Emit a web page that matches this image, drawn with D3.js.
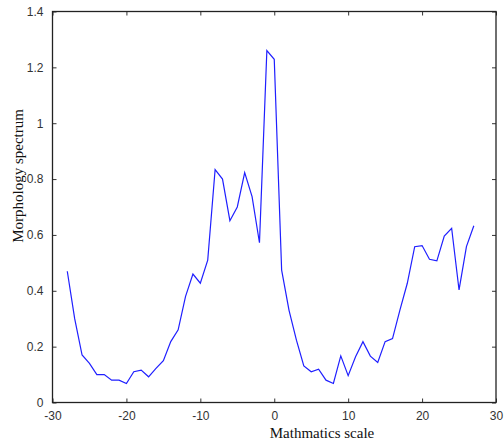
<!DOCTYPE html>
<html>
<head>
<meta charset="utf-8">
<script src="https://cdn.jsdelivr.net/npm/d3@7"></script>
<style>
  body { margin: 0; background: #fff; }
</style>
</head>
<body>
<div id="chart"></div>
<script>
// mathmatics scale (x) and morphology spectrum (y)
const scales = d3.range(-28, 28)
const spectrum = [
  0.47, 0.30, 0.17, 0.14, 0.10, 0.10, 0.08, 0.08, 0.068, 0.11,
  0.116, 0.092, 0.122, 0.15, 0.218, 0.26, 0.38, 0.46, 0.427, 0.51,
  0.834, 0.80, 0.651, 0.70, 0.823, 0.737, 0.572, 1.26, 1.229, 0.474,
  0.33, 0.223, 0.131, 0.11, 0.119, 0.08, 0.068, 0.167, 0.096, 0.164,
  0.218, 0.166, 0.143, 0.218, 0.229, 0.331, 0.427, 0.558, 0.562, 0.513,
  0.507, 0.596, 0.624, 0.403, 0.558, 0.633
]
const xTicks = [-30, -20, -10, 0, 10, 20, 30]
const yTicks = [0, 0.2, 0.4, 0.6, 0.8, 1, 1.2, 1.4]

const width = 504, height = 445
const plotLeft = 52.5, plotRight = 496, plotTop = 11.5, plotBottom = 402.5
const tickLen = 4

const x = d3.scaleLinear().domain([-30, 30]).range([plotLeft, plotRight])
const y = d3.scaleLinear().domain([0, 1.4]).range([plotBottom, plotTop])

const svg = d3.select('#chart')
  .append('svg')
  .attr('width', width)
  .attr('height', height)

const tickFont = g => g
  .attr('font-family', '"Liberation Sans", Arial, sans-serif')
  .attr('font-size', 12)

// plain hyphen for negatives, like the matlab output
const plain = d => String(d)

// bottom axis with labels
svg.append('g')
  .attr('transform', `translate(0,${plotBottom})`)
  .call(d3.axisBottom(x).tickValues(xTicks).tickSizeInner(-tickLen).tickSizeOuter(0).tickPadding(9).tickFormat(plain))
  .call(tickFont)
  .call(g => g.select('.domain').remove())
  .call(g => g.selectAll('text').attr('fill', '#333'))

// top axis, ticks only
svg.append('g')
  .attr('transform', `translate(0,${plotTop})`)
  .call(d3.axisTop(x).tickValues(xTicks).tickSizeInner(-tickLen).tickSizeOuter(0).tickFormat(''))
  .call(g => g.select('.domain').remove())

// left axis with labels
svg.append('g')
  .attr('transform', `translate(${plotLeft},0)`)
  .call(d3.axisLeft(y).tickValues(yTicks).tickSizeInner(-tickLen).tickSizeOuter(0).tickPadding(9).tickFormat(plain))
  .call(tickFont)
  .call(g => g.select('.domain').remove())
  .call(g => g.selectAll('text').attr('fill', '#333'))

// right axis, ticks only
svg.append('g')
  .attr('transform', `translate(${plotRight},0)`)
  .call(d3.axisRight(y).tickValues(yTicks).tickSizeInner(-tickLen).tickSizeOuter(0).tickFormat(''))
  .call(g => g.select('.domain').remove())

svg.selectAll('.tick line').attr('stroke', '#333')

// frame
svg.append('rect')
  .attr('x', plotLeft)
  .attr('y', plotTop)
  .attr('width', plotRight - plotLeft)
  .attr('height', plotBottom - plotTop)
  .attr('fill', 'none')
  .attr('stroke', '#222')
  .attr('stroke-width', 1.3)

const line = d3.line()
  .x((d, i) => x(scales[i]))
  .y(d => y(d))

svg.append('path')
  .datum(spectrum)
  .attr('d', line)
  .attr('fill', 'none')
  .attr('stroke', '#1f1fff')
  .attr('stroke-width', 1.2)

svg.append('text')
  .attr('x', 322)
  .attr('y', 438)
  .attr('text-anchor', 'middle')
  .attr('font-family', '"Liberation Serif", "Times New Roman", serif')
  .attr('font-size', 15)
  .attr('fill', '#111')
  .text('Mathmatics scale')

svg.append('text')
  .attr('transform', 'translate(23,176) rotate(-90)')
  .attr('text-anchor', 'middle')
  .attr('font-family', '"Liberation Serif", "Times New Roman", serif')
  .attr('font-size', 15)
  .attr('fill', '#111')
  .text('Morphology spectrum')
</script>
</body>
</html>
